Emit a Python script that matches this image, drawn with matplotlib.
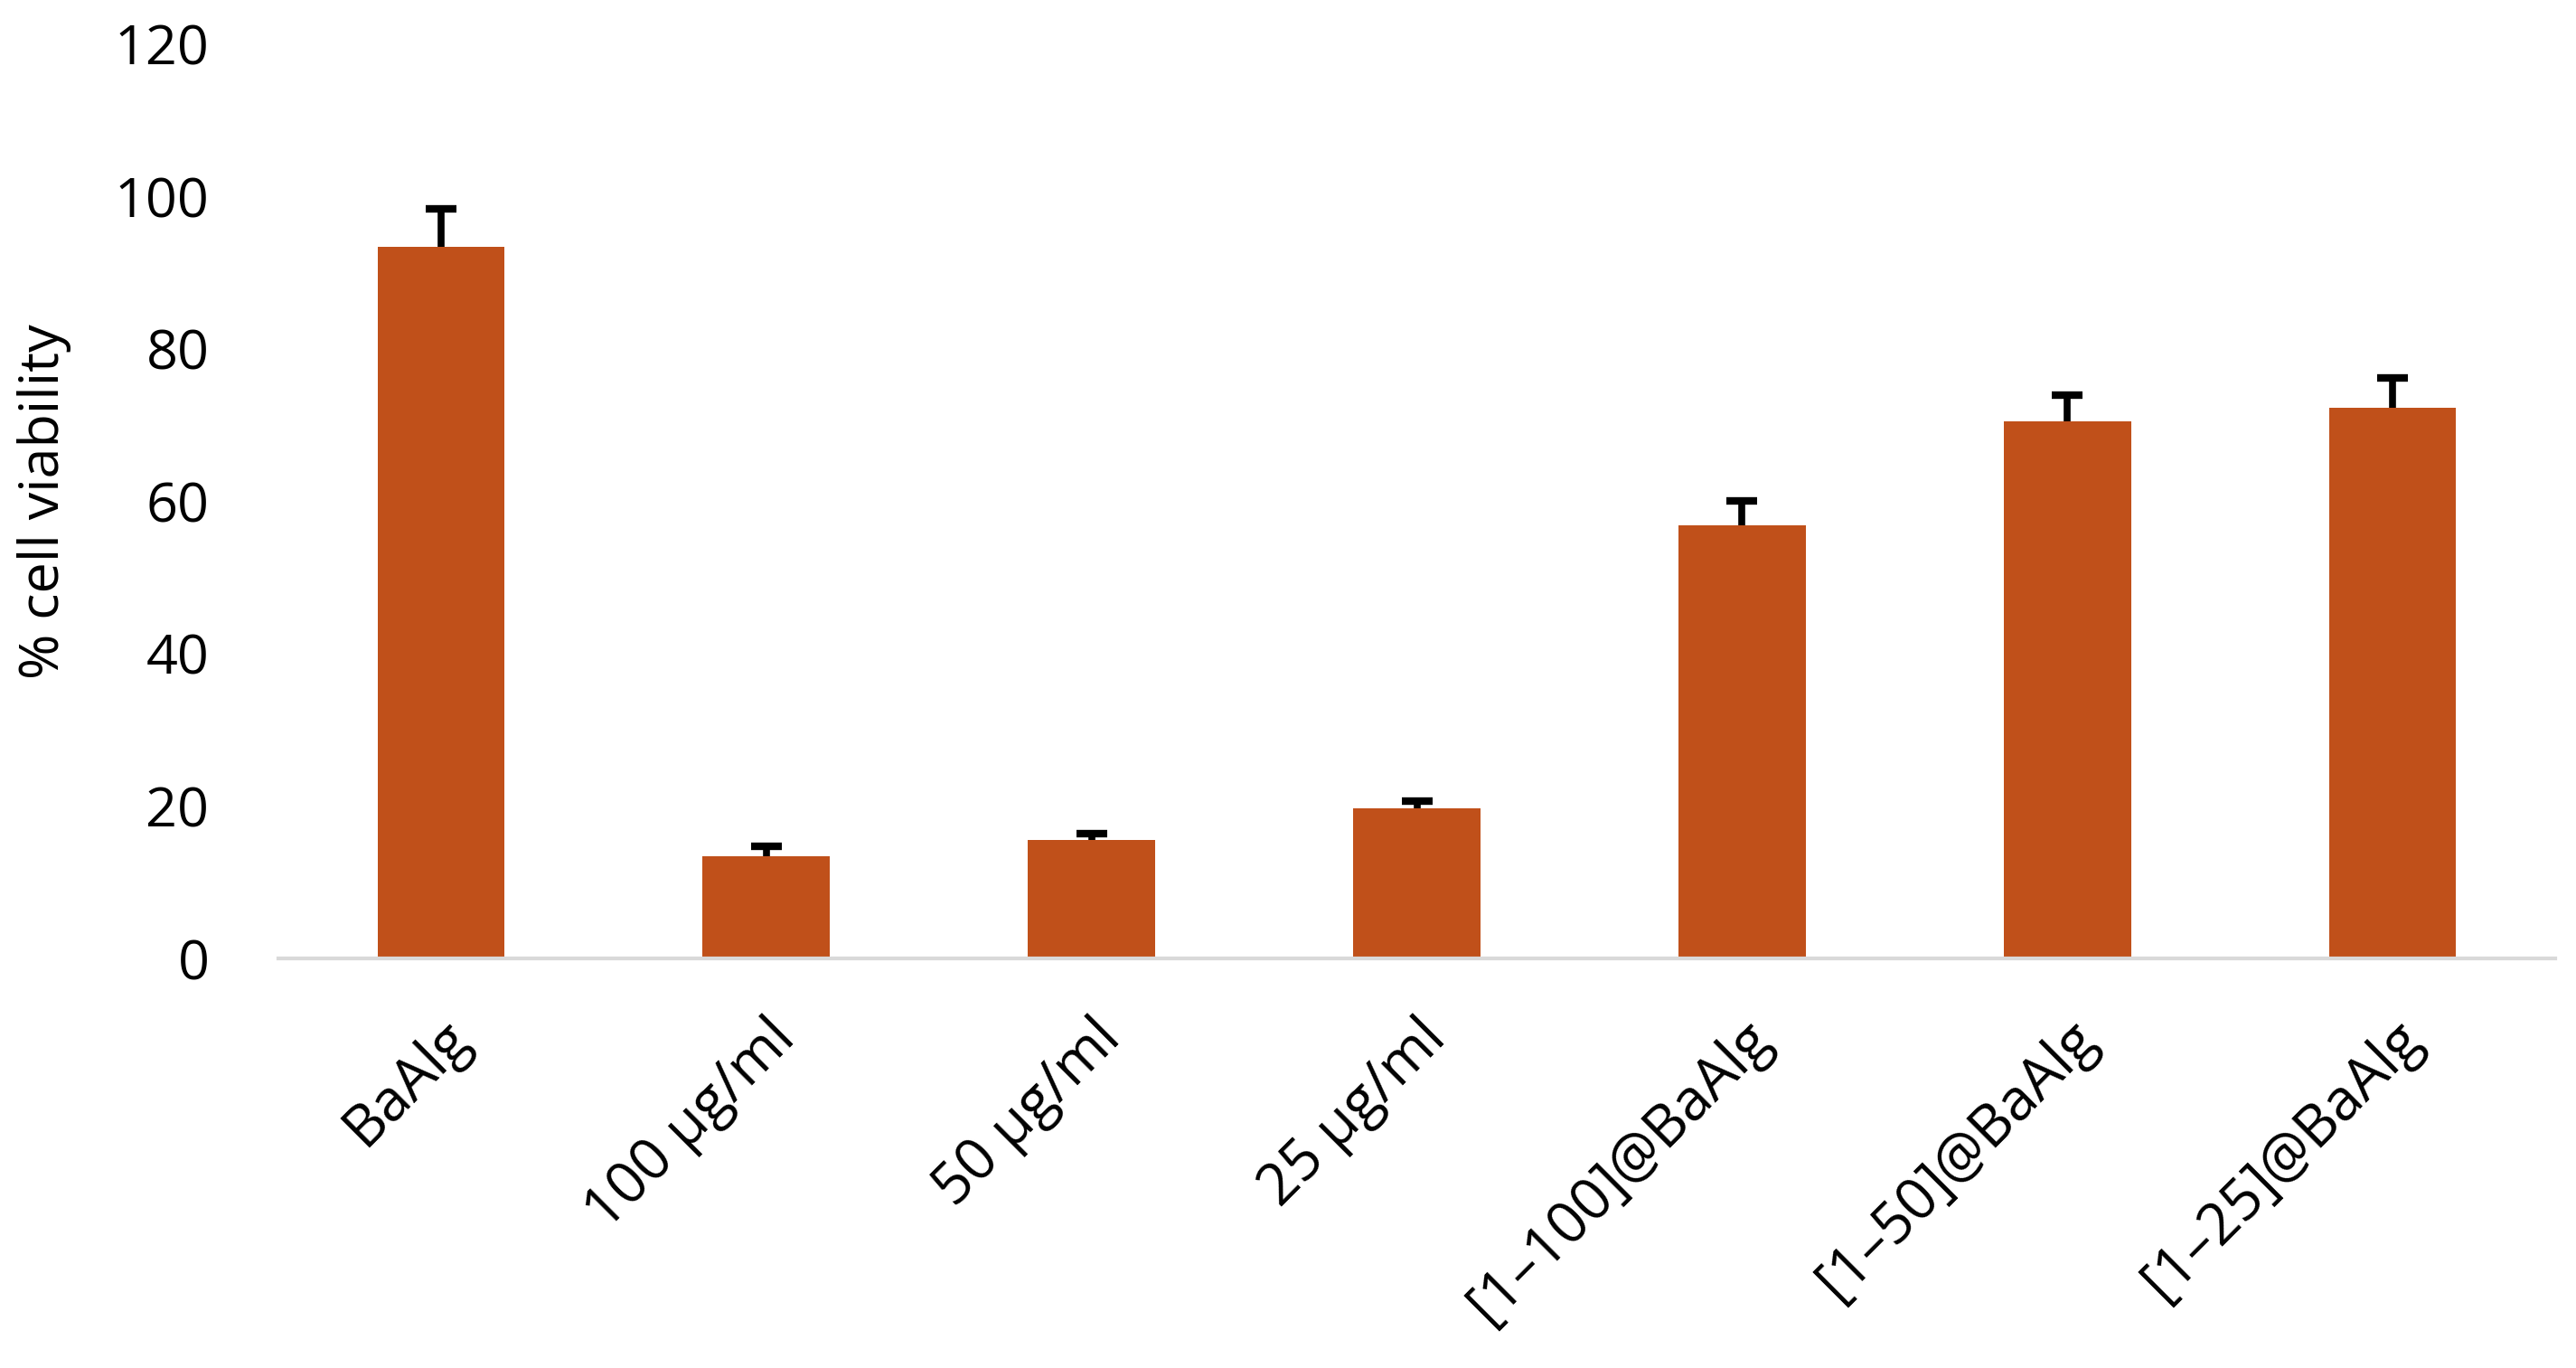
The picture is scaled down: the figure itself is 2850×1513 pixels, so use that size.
import numpy as np
import matplotlib.pyplot as plt

# values
labels = ['BaAlg', '100 µg/ml', '50 µg/ml', '25 µg/ml',
          '[1\u2013100]@BaAlg', '[1\u201350]@BaAlg', '[1\u201325]@BaAlg']
viability = [93.3, 13.4, 15.6, 19.7, 56.8, 70.5, 72.3]
errors = [5.1, 1.3, 0.8, 0.9, 3.2, 3.4, 3.8]

plt.rcParams['font.family'] = ['Open Sans', 'DejaVu Sans']

fig = plt.figure(figsize=(28.5, 15.13), dpi=100)
ax = fig.add_axes([0.108, 0.2994, 0.884, 0.6686])

x = np.arange(len(labels))
ax.bar(x, viability, width=0.39, color='#C0501A', zorder=2)
eb = ax.errorbar(x, viability, yerr=[np.zeros(len(errors)), errors], fmt='none',
                 ecolor='black', elinewidth=5.5, capsize=12, capthick=6, zorder=3)
# keep only the upper caps
for cap in eb[1]:
    if np.allclose(cap.get_ydata(), viability):
        cap.set_visible(False)

ax.set_xlim(-0.5, len(labels) - 0.5)
ax.set_ylim(0, 120)
ax.set_yticks(np.arange(0, 121, 20))
ax.tick_params(axis='y', length=0, labelsize=44, pad=55)
ax.tick_params(axis='x', length=0, labelsize=46, pad=40)
ax.set_xticks(x)
ax.set_xticklabels(labels, rotation=45, ha='right', rotation_mode='anchor')

for s in ['top', 'right', 'left']:
    ax.spines[s].set_visible(False)
ax.spines['bottom'].set_color('#d9d9d9')
ax.spines['bottom'].set_linewidth(3)

ax.set_ylabel('% cell viability', fontsize=44)
ax.yaxis.set_label_coords(-0.091, 0.5)

fig.savefig('out.png', dpi=100)
